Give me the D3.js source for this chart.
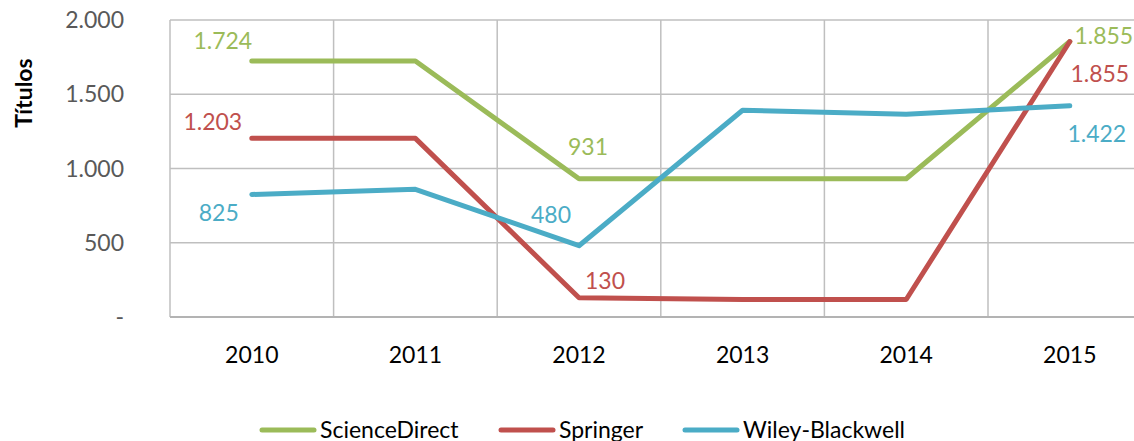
<!DOCTYPE html>
<html>
<head>
<meta charset="utf-8">
<script src="https://cdn.jsdelivr.net/npm/d3@7"></script>
<style>
  body { margin: 0; background: #fff; }
  svg { display: block; font-family: Lato, "Open Sans", sans-serif; }
</style>
</head>
<body>
<div id="chart"></div>
<script>
var years = ["2010", "2011", "2012", "2013", "2014", "2015"];
var yTicks = [0, 500, 1000, 1500, 2000];
var seriesNames = ["ScienceDirect", "Springer", "Wiley-Blackwell"];
var scienceDirect = [1724, 1724, 931, 931, 931, 1855];
var springer = [1203, 1203, 130, 118, 118, 1855];
var wiley = [825, 860, 480, 1392, 1366, 1422];
var colors = ["#9BBB59", "#C0504D", "#4BACC6"];

// which points get a value label, and where it sits relative to the point (dx, dy)
var labelSpots = [
  [[0, -29, -20], [2, 9, -32], [5, 34, -6]],
  [[0, -39, -16], [2, 26, -17], [5, 30, 32]],
  [[0, -33, 18], [2, -28, -31], [5, 27, 28]]
];

var width = 1134, height = 441;
var plotLeft = 170, plotTop = 20, plotBottom = 317;
var band = 163.6;
var fontSize = 23;

var svg = d3.select("#chart").append("svg")
    .attr("width", width)
    .attr("height", height);

var x = d3.scaleBand()
    .domain(years)
    .range([plotLeft, plotLeft + band * years.length]);

var y = d3.scaleLinear()
    .domain([0, 2000])
    .range([plotBottom, plotTop]);

var fmt = function(v) { return d3.format(",")(v).replace(/,/g, "."); };

// title, mostly cut off at the top edge
svg.append("text")
    .attr("x", 566).attr("y", -4)
    .attr("text-anchor", "middle")
    .attr("font-size", 19).attr("font-weight", "bold")
    .text("Títulos publicados por plataforma");

// horizontal grid
svg.selectAll(".hgrid")
    .data(yTicks.filter(function(d) { return d > 0; }))
    .enter().append("line")
    .attr("x1", plotLeft).attr("x2", width)
    .attr("y1", function(d) { return y(d); })
    .attr("y2", function(d) { return y(d); })
    .attr("stroke", "#BFBFBF").attr("stroke-width", 1.5);

// vertical grid
svg.selectAll(".vgrid")
    .data(years)
    .enter().append("line")
    .attr("x1", function(d) { return x(d); })
    .attr("x2", function(d) { return x(d); })
    .attr("y1", plotTop).attr("y2", plotBottom)
    .attr("stroke", "#BFBFBF").attr("stroke-width", 1.5);

// baseline
svg.append("line")
    .attr("x1", plotLeft).attr("x2", width)
    .attr("y1", plotBottom).attr("y2", plotBottom)
    .attr("stroke", "#B3B3B3").attr("stroke-width", 2);

// y tick labels
svg.selectAll(".ylab")
    .data(yTicks)
    .enter().append("text")
    .attr("x", 124)
    .attr("y", function(d) { return y(d); })
    .attr("dy", "0.35em")
    .attr("text-anchor", "end")
    .attr("font-size", fontSize)
    .attr("fill", "#595959")
    .text(function(d) { return d === 0 ? "-" : fmt(d); });

// x tick labels
svg.selectAll(".xlab")
    .data(years)
    .enter().append("text")
    .attr("x", function(d) { return x(d) + x.bandwidth() / 2; })
    .attr("y", 363)
    .attr("text-anchor", "middle")
    .attr("font-size", fontSize)
    .attr("fill", "#000")
    .text(function(d) { return d; });

// y axis title
svg.append("text")
    .attr("transform", "translate(32,93) rotate(-90)")
    .attr("text-anchor", "middle")
    .attr("font-size", 23).attr("font-weight", "bold")
    .text("Títulos");

var allSeries = [scienceDirect, springer, wiley];

var line = d3.line()
    .x(function(d, i) { return x(years[i]) + x.bandwidth() / 2; })
    .y(function(d) { return y(d); });

allSeries.forEach(function(vals, s) {
    svg.append("path")
        .datum(vals)
        .attr("d", line)
        .attr("fill", "none")
        .attr("stroke", colors[s])
        .attr("stroke-width", 5)
        .attr("stroke-linejoin", "round")
        .attr("stroke-linecap", "round");
});

allSeries.forEach(function(vals, s) {
    labelSpots[s].forEach(function(spot) {
        var i = spot[0];
        svg.append("text")
            .attr("x", x(years[i]) + x.bandwidth() / 2 + spot[1])
            .attr("y", y(vals[i]) + spot[2])
            .attr("dy", "0.35em")
            .attr("text-anchor", "middle")
            .attr("font-size", fontSize)
            .attr("fill", colors[s])
            .text(fmt(vals[i]));
    });
});

// legend
var legendX = [262, 501, 685];
var legend = svg.selectAll(".leg")
    .data(seriesNames)
    .enter().append("g")
    .attr("transform", function(d, i) { return "translate(" + legendX[i] + ",430)"; });

legend.append("line")
    .attr("x1", 0).attr("x2", 52)
    .attr("stroke", function(d, i) { return colors[i]; })
    .attr("stroke-width", 5)
    .attr("stroke-linecap", "round");

legend.append("text")
    .attr("x", 58)
    .attr("dy", "0.35em")
    .attr("font-size", fontSize)
    .attr("fill", "#000")
    .text(function(d) { return d; });
</script>
</body>
</html>
